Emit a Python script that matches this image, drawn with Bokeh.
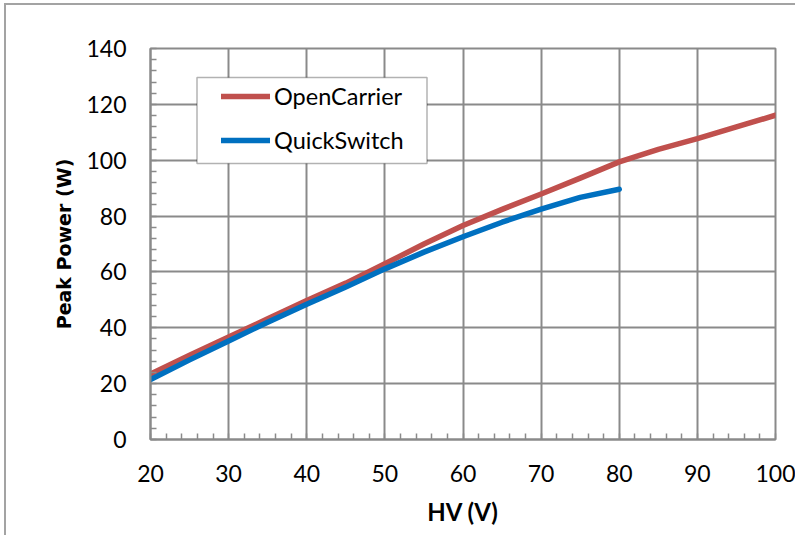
from bokeh.plotting import figure
from bokeh.models import Range1d, SingleIntervalTicker, Legend, LegendItem, BoxAnnotation
from bokeh.embed import file_html
from bokeh.resources import INLINE

# ---- data ----
hv_open = [20, 25, 30, 35, 40, 45, 50, 55, 60, 65, 70, 75, 80, 85, 90, 95, 100]
power_open = [23.4, 30.2, 36.7, 43.2, 49.8, 56.0, 62.9, 70.0, 76.6, 82.4, 87.9, 93.6, 99.4, 103.9, 107.7, 111.9, 116.1]
hv_quick = [20, 25, 30, 35, 40, 45, 50, 55, 60, 65, 70, 75, 80]
power_quick = [21.5, 28.5, 35.3, 42.0, 48.4, 54.6, 61.1, 67.1, 72.6, 77.8, 82.5, 86.7, 89.6]
series_names = ["OpenCarrier", "QuickSwitch"]
x_title = "HV (V)"
y_title = "Peak Power (W)"

RED = "#C0504D"
BLUE = "#0070C0"
GRID = "#8a8a8a"

p = figure(
    output_backend="svg", toolbar_location=None,
    frame_width=625, frame_height=391,
    min_border_left=144, min_border_right=20, min_border_top=43, min_border_bottom=96,
    x_range=Range1d(20, 100), y_range=Range1d(0, 140),
)
p.styles = {"margin-left": "4px", "margin-top": "3px",
            "border-left": "2px solid #a3a3a3", "border-top": "2px solid #a3a3a3"}

p.background_fill_color = "white"
p.border_fill_color = "white"
p.outline_line_color = GRID
p.outline_line_width = 2

p.xaxis.ticker = SingleIntervalTicker(interval=10, num_minor_ticks=5)
p.yaxis.ticker = SingleIntervalTicker(interval=20, num_minor_ticks=5)

for ax in (p.xaxis[0], p.yaxis[0]):
    ax.axis_line_color = GRID
    ax.axis_line_width = 2
    ax.major_tick_line_color = GRID
    ax.major_tick_in = 0
    ax.major_tick_out = 0
    ax.minor_tick_line_color = GRID
    ax.minor_tick_line_width = 1.5
    ax.minor_tick_in = 6
    ax.minor_tick_out = 0
    ax.major_label_text_font = "Lato"
    ax.major_label_text_font_size = "23px"
    ax.major_label_text_color = "black"

p.xaxis.major_label_standoff = 25
p.yaxis.major_label_standoff = 24

p.xaxis.axis_label = x_title
p.xaxis.axis_label_text_font = "Lato"
p.xaxis.axis_label_text_font_style = "bold"
p.xaxis.axis_label_text_font_size = "24px"
p.xaxis.axis_label_text_color = "black"
p.xaxis.axis_label_standoff = 12

p.yaxis.axis_label = y_title
p.yaxis.axis_label_text_font = "DejaVu Sans"
p.yaxis.axis_label_text_font_style = "bold"
p.yaxis.axis_label_text_font_size = "19px"
p.yaxis.axis_label_text_color = "black"
p.yaxis.axis_label_standoff = 8

p.xgrid.grid_line_color = GRID
p.xgrid.grid_line_width = 2
p.ygrid.grid_line_color = GRID
p.ygrid.grid_line_width = 2

r_open = p.line(hv_open, power_open, line_color=RED, line_width=5.5,
                line_cap="round", line_join="round")
r_quick = p.line(hv_quick, power_quick, line_color=BLUE, line_width=5.5,
                 line_cap="round", line_join="round")

box = BoxAnnotation(left=46.5, right=276.5, top=362, bottom=276,
                    left_units="screen", right_units="screen",
                    top_units="screen", bottom_units="screen",
                    fill_color="white", fill_alpha=1.0,
                    line_color="black", line_width=1.5)
p.add_layout(box)

legend = Legend(
    items=[LegendItem(label=series_names[0], renderers=[r_open]),
           LegendItem(label=series_names[1], renderers=[r_quick])],
    location=(62, 276),
    padding=9, spacing=16, margin=0,
    glyph_width=49, glyph_height=26, label_height=26, label_standoff=4,
    label_text_font="Lato", label_text_font_size="23.5px", label_text_color="black",
    background_fill_alpha=0.0, border_line_alpha=0.0,
)
p.add_layout(legend, "center")

open("out.html", "w").write(file_html(p, INLINE))
